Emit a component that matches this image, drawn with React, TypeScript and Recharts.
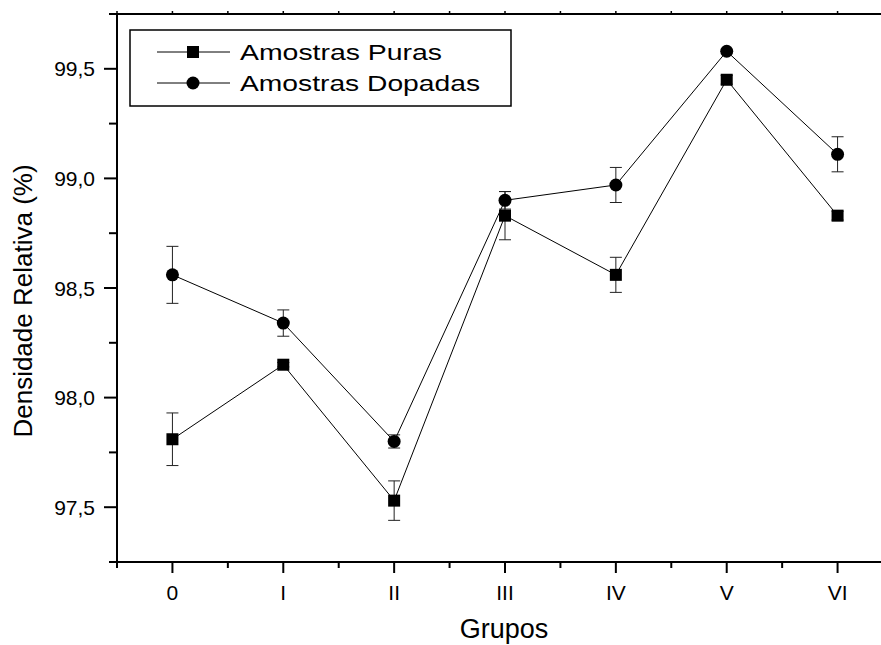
import React from 'react';
import { LineChart, Line, XAxis, YAxis, ErrorBar } from 'recharts';

const grupos = ['0', 'I', 'II', 'III', 'IV', 'V', 'VI'];
const puras = [97.81, 98.15, 97.53, 98.83, 98.56, 99.45, 98.83];
const purasErr = [0.12, 0.01, 0.09, 0.11, 0.08, 0.02, 0.02];
const dopadas = [98.56, 98.34, 97.8, 98.9, 98.97, 99.58, 99.11];
const dopadasErr = [0.13, 0.06, 0.03, 0.04, 0.08, 0.0, 0.08];
const seriesNames = ['Amostras Puras', 'Amostras Dopadas'];
const xTitle = 'Grupos';
const yTitle = 'Densidade Relativa (%)';
const xTicks = [-0.5, 0, 0.5, 1, 1.5, 2, 2.5, 3, 3.5, 4, 4.5, 5, 5.5, 6, 6.5];
const yTicks = [97.25, 97.5, 97.75, 98, 98.25, 98.5, 98.75, 99, 99.25, 99.5, 99.75];
const yMajor = [97.5, 98, 98.5, 99, 99.5];

const data = grupos.map((g, i) => ({
  x: i,
  puras: puras[i],
  errP: purasErr[i],
  dopadas: dopadas[i],
  errD: dopadasErr[i],
}));

const FONT = '"Liberation Sans", Arial, Helvetica, sans-serif';

const isMajorY = (v: number) => yMajor.some((m) => Math.abs(m - v) < 1e-6);
const fmt = (v: number) => v.toFixed(1).replace('.', ',');

const YTick = (props: any) => {
  const { x, y, payload } = props;
  const major = isMajorY(payload.value);
  return (
    <g>
      <line x1={x} x2={x - (major ? 13 : 8)} y1={y} y2={y} stroke="#000" strokeWidth={2} />
      {major && (
        <text x={x - 22} y={y} textAnchor="end" dominantBaseline="central" fontSize={21} fontFamily={FONT} fill="#000">
          {fmt(payload.value)}
        </text>
      )}
    </g>
  );
};

const XTick = (props: any) => {
  const { x, y, payload } = props;
  const v = payload.value;
  const major = Number.isInteger(v);
  return (
    <g>
      <line x1={x} x2={x} y1={y} y2={y + (major ? 11 : 6)} stroke="#000" strokeWidth={2} />
      {major && (
        <text x={x} y={y + 30} textAnchor="middle" dominantBaseline="central" fontSize={21} fontFamily={FONT} fill="#000">
          {grupos[v]}
        </text>
      )}
    </g>
  );
};

const TopTick = (props: any) => {
  const { x, y } = props;
  return <line x1={x} x2={x} y1={y} y2={y - 3} stroke="#000" strokeWidth={1.5} />;
};

const SquareDot = (props: any) => {
  const { cx, cy, index } = props;
  if (cx == null || cy == null) return <g key={index} />;
  return <rect key={index} x={cx - 6} y={cy - 6} width={12} height={12} fill="#000" />;
};

const CircleDot = (props: any) => {
  const { cx, cy, index } = props;
  if (cx == null || cy == null) return <g key={index} />;
  return <circle key={index} cx={cx} cy={cy} r={6.5} fill="#000" />;
};

const XTitle = () => (
  <text x={504} y={638} textAnchor="middle" fontSize={27} fontFamily={FONT} fill="#000">
    {xTitle}
  </text>
);

const YTitle = () => (
  <text transform="translate(32, 301) rotate(-90)" textAnchor="middle" fontSize={26} fontFamily={FONT} fill="#000">
    {yTitle}
  </text>
);

const LegendBox = () => (
  <svg
    width={383}
    height={78}
    style={{ position: 'absolute', left: 129, top: 29, pointerEvents: 'none' }}
  >
    <rect x={1} y={1} width={381} height={76} fill="#fff" stroke="#000" strokeWidth={1.5} />
    <line x1={28} x2={101} y1={23} y2={23} stroke="#000" strokeWidth={1} />
    <rect x={58} y={17} width={12} height={12} fill="#000" />
    <text x={111} y={23} dominantBaseline="central" fontSize={22} fontFamily={FONT} fill="#000" textLength={202} lengthAdjust="spacingAndGlyphs">
      {seriesNames[0]}
    </text>
    <line x1={28} x2={101} y1={54} y2={54} stroke="#000" strokeWidth={1} />
    <circle cx={64} cy={54} r={6.5} fill="#000" />
    <text x={111} y={54} dominantBaseline="central" fontSize={22} fontFamily={FONT} fill="#000" textLength={240} lengthAdjust="spacingAndGlyphs">
      {seriesNames[1]}
    </text>
  </svg>
);

export default function App() {
  return (
    <div style={{ position: 'absolute', left: 0, top: 0, width: 881, height: 645, overflow: 'hidden', background: '#fff' }}>
      <LineChart width={893} height={645} data={data} margin={{ top: 13, right: 0, bottom: 0, left: 0 }}>
        <XAxis
          xAxisId="bottom"
          dataKey="x"
          type="number"
          domain={[-0.5, 6.5]}
          ticks={xTicks}
          interval={0}
          height={83}
          axisLine={{ stroke: '#000', strokeWidth: 2 }}
          tickLine={false}
          tickSize={0}
          tickMargin={0}
          tick={<XTick />}
          label={<XTitle />}
        />
        <XAxis
          xAxisId="top"
          orientation="top"
          dataKey="x"
          type="number"
          domain={[-0.5, 6.5]}
          ticks={xTicks}
          interval={0}
          height={1}
          axisLine={{ stroke: '#000', strokeWidth: 2 }}
          tickLine={false}
          tickSize={0}
          tickMargin={0}
          tick={<TopTick />}
        />
        <YAxis
          yAxisId="left"
          type="number"
          domain={[97.25, 99.75]}
          ticks={yTicks}
          interval={0}
          width={117}
          axisLine={{ stroke: '#000', strokeWidth: 2 }}
          tickLine={false}
          tickSize={0}
          tickMargin={0}
          tick={<YTick />}
          label={<YTitle />}
        />
        <Line
          xAxisId="bottom"
          yAxisId="left"
          type="linear"
          dataKey="puras"
          name={seriesNames[0]}
          stroke="#000"
          strokeWidth={1}
          dot={<SquareDot />}
          activeDot={false}
          isAnimationActive={false}
        >
          <ErrorBar dataKey="errP" direction="y" width={6} stroke="#222" strokeWidth={1} isAnimationActive={false} />
        </Line>
        <Line
          xAxisId="bottom"
          yAxisId="left"
          type="linear"
          dataKey="dopadas"
          name={seriesNames[1]}
          stroke="#000"
          strokeWidth={1}
          dot={<CircleDot />}
          activeDot={false}
          isAnimationActive={false}
        >
          <ErrorBar dataKey="errD" direction="y" width={6} stroke="#222" strokeWidth={1} isAnimationActive={false} />
        </Line>
      </LineChart>
      <LegendBox />
    </div>
  );
}
